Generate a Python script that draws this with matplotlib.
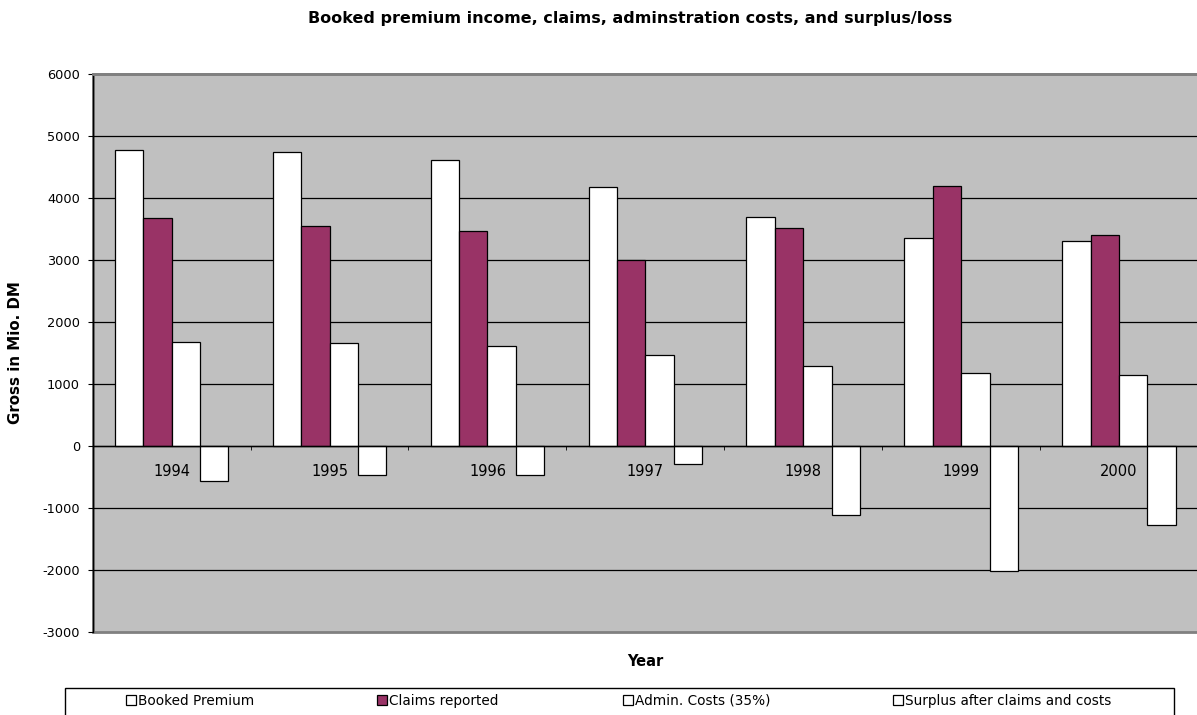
import matplotlib
matplotlib.use("Agg")
import matplotlib.pyplot as plt
from matplotlib.patches import Rectangle
import numpy as np

plt.rcParams['font.family'] = ['DejaVu Sans']
plt.rcParams['axes.unicode_minus'] = False

years = ["1994", "1995", "1996", "1997", "1998", "1999", "2000"]
booked_premium = [4780, 4740, 4620, 4170, 3690, 3350, 3300]
claims_reported = [3670, 3550, 3470, 3000, 3510, 4190, 3400]
admin_costs = [1675, 1660, 1620, 1460, 1290, 1170, 1150]
surplus = [-560, -465, -465, -290, -1110, -2010, -1270]
series_names = ["Booked Premium", "Claims reported", "Admin. Costs (35%)",
                "Surplus after claims and costs"]

W, H = 1197, 715
fig = plt.figure(figsize=(W / 100, H / 100), dpi=100)
ax = fig.add_axes([92.7 / W, 1 - 632 / H, (1198 - 92.7) / W, (632 - 74) / H])

ax.set_facecolor('#C0C0C0')
ax.patch.set_edgecolor('#808080')
ax.patch.set_linewidth(2)

x = np.arange(len(years))
w = 0.18
series = [booked_premium, claims_reported, admin_costs, surplus]
colors = ['white', '#993366', 'white', 'white']
containers = []
for i, (vals, col) in enumerate(zip(series, colors)):
    c = ax.bar(x + (i - 1.5) * w, vals, width=w, color=col,
               edgecolor='black', linewidth=0.9, zorder=3)
    containers.append(c)

ax.set_xlim(-0.5, len(years) - 0.5)
ax.set_ylim(-3000, 6000)
ax.set_yticks(np.arange(-3000, 6001, 1000))
ax.yaxis.grid(True, color='black', linewidth=0.9, zorder=1)
ax.set_axisbelow(True)

ax.spines['right'].set_visible(False)
ax.spines['top'].set_color('#808080')
ax.spines['top'].set_linewidth(2)
ax.spines['top'].set_zorder(5)
ax.spines['left'].set_color('black')
ax.spines['left'].set_linewidth(1)
ax.spines['left'].set_zorder(5)
ax.spines['bottom'].set_position(('data', 0))
ax.spines['bottom'].set_color('black')
ax.spines['bottom'].set_linewidth(1)
ax.spines['bottom'].set_zorder(4)

ax.set_xticks(x)
ax.set_xticklabels(years)
ax.set_xticks(np.arange(-0.5, len(years), 1), minor=True)
ax.tick_params(axis='x', which='major', length=0, pad=13, labelsize=10.5)
ax.tick_params(axis='x', which='minor', length=3, direction='out', color='black')
ax.tick_params(axis='y', length=3.6, direction='out', pad=5.5, labelsize=9.3,
               color='black')

yticks = ax.yaxis.get_major_ticks()
yticks[0].gridline.set_visible(False)
yticks[-1].gridline.set_visible(False)

ax.set_ylabel("Gross in Mio. DM", fontsize=10.8, fontweight='bold')
ax.yaxis.set_label_coords((23 - 92.7) / 1105.3, 0.5)
ax.set_xlabel("Year", fontsize=10.5, fontweight='bold')
ax.xaxis.set_label_coords(0.5, -(654 - 632) / 558)

fig.text(630 / W, 1 - 18 / H,
         "Booked premium income, claims, adminstration costs, and surplus/loss",
         ha='center', va='center', fontsize=11.5, fontweight='bold')

# legend box
fig.add_artist(Rectangle((65 / W, -0.05), (1174 - 65) / W, 0.05 + 1 - 688 / H,
                         transform=fig.transFigure, fill=False,
                         edgecolor='black', linewidth=1))
leg_x = [126, 377, 623, 893]
for cont, name, lx in zip(containers, series_names, leg_x):
    fig.legend(handles=[cont], labels=[name], loc='center left',
               bbox_to_anchor=(lx / W, 1 - 701 / H), frameon=False,
               handlelength=0.7, handleheight=0.7, handletextpad=0.2,
               borderpad=0, borderaxespad=0, fontsize=9.8)

fig.savefig("out.png", dpi=100)
